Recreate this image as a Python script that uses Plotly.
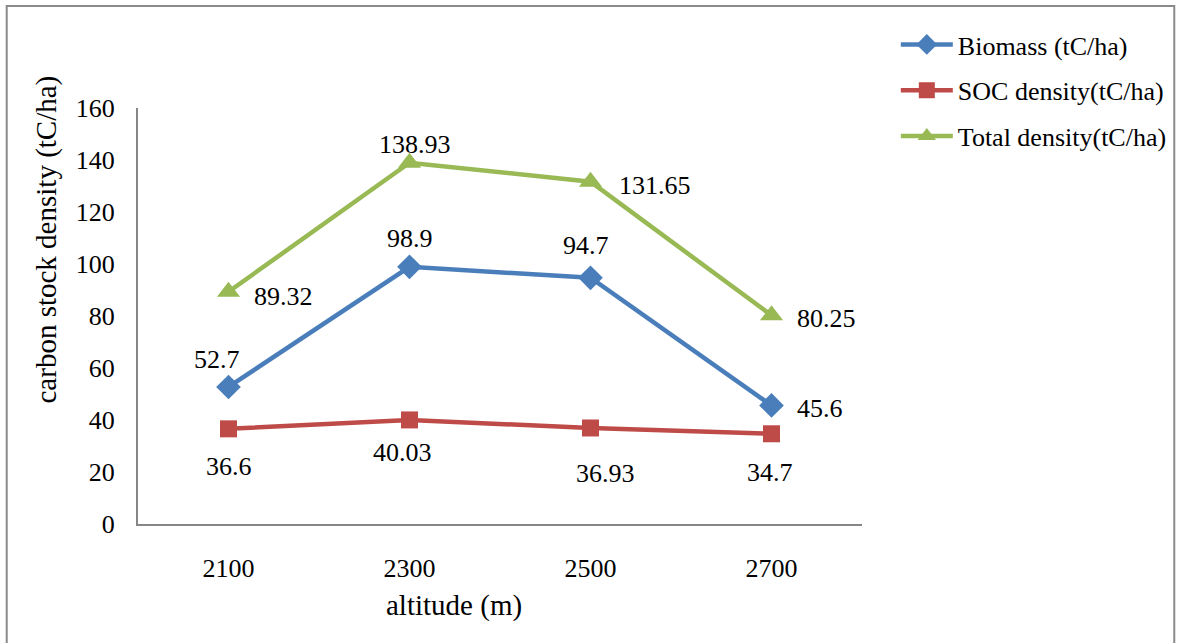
import plotly.graph_objects as go

altitudes = ["2100", "2300", "2500", "2700"]
biomass = [52.7, 98.9, 94.7, 45.6]
soc = [36.6, 40.03, 36.93, 34.7]
total = [89.32, 138.93, 131.65, 80.25]
series_names = ["Biomass (tC/ha)", "SOC density(tC/ha)", "Total density(tC/ha)"]
y_ticks = [0, 20, 40, 60, 80, 100, 120, 140, 160]

FONT = "Liberation Serif, Times New Roman, serif"
colors = ["#4A7EBB", "#BE4B48", "#98B954"]
symbols = ["diamond", "square", "triangle-up"]
msizes = [19, 17, 20]

W, H = 1184, 643
L, R, T, B = 138, 1184 - 866, 108, 643 - 524
pw, ph = W - L - R, H - T - B

def px(x):
    return (x - L) / pw

def py(y):
    return (H - B - y) / ph

fig = go.Figure()
for i, (name, vals, c, s, ms) in enumerate(zip(series_names, [biomass, soc, total], colors, symbols, msizes)):
    fig.add_trace(go.Scatter(
        x=altitudes, y=vals, name=name, mode="lines+markers", legendgroup=f"g{i}",
        line=dict(color=c, width=4.5),
        marker=dict(symbol=s, size=ms, color=c),
    ))

# label offsets (px) per series per point
offsets = [
    [(-12, 27), (0, 28), (-5, 32), (48, -3)],
    [(0, -38), (-7, -33), (15, -46), (-2, -39)],
    [(55, -5), (5, 18), (64, -4), (55, -3)],
]
annotations = []
for vals, offs in zip([biomass, soc, total], offsets):
    for idx, (v, (dx, dy)) in enumerate(zip(vals, offs)):
        annotations.append(dict(
            x=idx, y=v, xref="x", yref="y", text=f"{v:g}", showarrow=False,
            xshift=dx, yshift=dy, font=dict(family=FONT, size=26, color="black"),
        ))

annotations.append(dict(
    x=px(45), y=py(240), xref="paper", yref="paper", text="carbon stock density (tC/ha)",
    textangle=-90, showarrow=False, xanchor="center", yanchor="middle",
    font=dict(family=FONT, size=29, color="black"),
))
annotations.append(dict(
    x=px(456), y=py(605), xref="paper", yref="paper", text="altitude (m)",
    showarrow=False, xanchor="center", yanchor="middle",
    font=dict(family=FONT, size=29, color="black"),
))

fig.update_layout(
    width=W, height=H,
    margin=dict(l=L, r=R, t=T, b=B, pad=0),
    paper_bgcolor="white", plot_bgcolor="white",
    font=dict(family=FONT, size=26, color="black"),
    showlegend=True,
    legend=dict(
        x=px(900), y=py(21), xanchor="left", yanchor="top",
        font=dict(family=FONT, size=26, color="black"),
        traceorder="grouped", tracegroupgap=9, itemwidth=52,
        bgcolor="rgba(0,0,0,0)",
    ),
    annotations=annotations,
    shapes=[dict(
        type="rect", xref="paper", yref="paper",
        x0=px(6), x1=px(1180), y0=py(650), y1=py(6),
        line=dict(color="#8A8A8A", width=2), fillcolor="rgba(0,0,0,0)", layer="below",
    )],
)
fig.update_xaxes(
    type="category", range=[-0.5, 3.5], showgrid=False, zeroline=False,
    showline=True, linecolor="#868686", linewidth=2, ticks="",
    ticklabelstandoff=20, tickfont=dict(family=FONT, size=26, color="black"),
)
fig.update_yaxes(
    range=[0, 160], tickvals=y_ticks, showgrid=False, zeroline=False,
    showline=True, linecolor="#868686", linewidth=2, ticks="",
    ticklabelstandoff=16, tickfont=dict(family=FONT, size=26, color="black"),
)

fig.write_html("out.html", config={"displayModeBar": False},
               post_script="document.body.style.margin='0';")
